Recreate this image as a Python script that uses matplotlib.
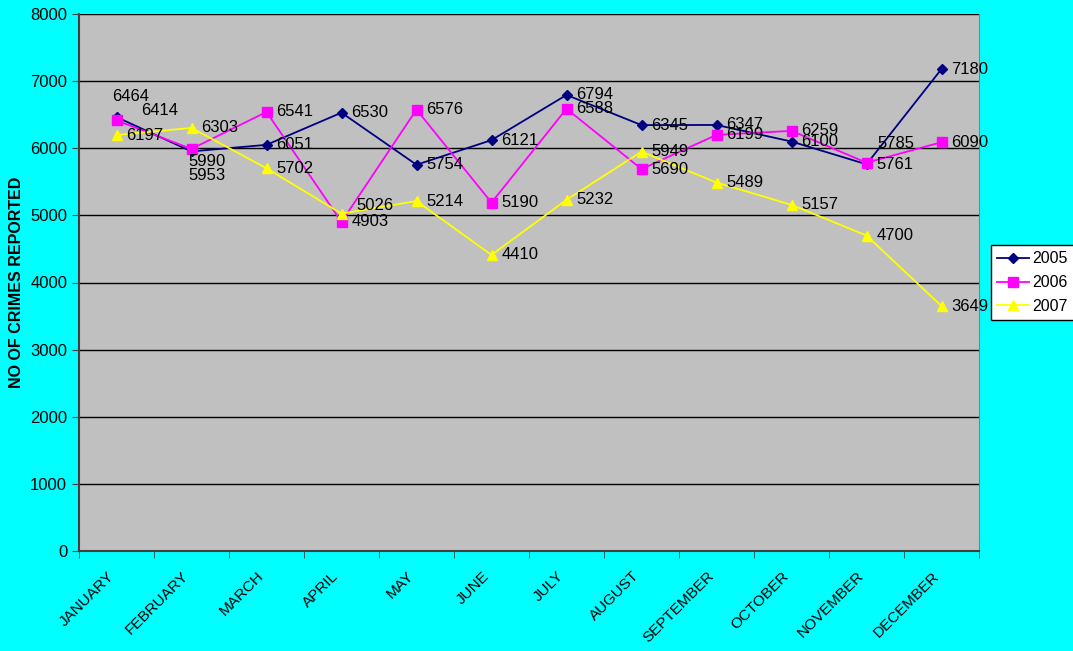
import matplotlib.pyplot as plt
from matplotlib.ticker import FixedLocator, MultipleLocator

plt.rcParams['font.family'] = ['Liberation Sans', 'DejaVu Sans']

months = ["JANUARY", "FEBRUARY", "MARCH", "APRIL", "MAY", "JUNE", "JULY",
          "AUGUST", "SEPTEMBER", "OCTOBER", "NOVEMBER", "DECEMBER"]
crimes_2005 = [6464, 5953, 6051, 6530, 5754, 6121, 6794, 6345, 6347, 6100, 5761, 7180]
crimes_2006 = [6414, 5990, 6541, 4903, 6576, 5190, 6588, 5690, 6199, 6259, 5785, 6090]
crimes_2007 = [6197, 6303, 5702, 5026, 5214, 4410, 5232, 5949, 5489, 5157, 4700, 3649]

# label offsets (points) where the label is not just to the right of the marker
label_shift = {
    ("2005", 0): (-3, 15),
    ("2005", 1): (-2, -17),
    ("2006", 0): (18, 7),
    ("2006", 1): (-2, -9),
    ("2006", 10): (8, 14),
    ("2007", 3): (11, 6),
}

series = [
    ("2005", crimes_2005, "#000080", "D", 5),
    ("2006", crimes_2006, "#FF00FF", "s", 6.5),
    ("2007", crimes_2007, "#FFFF00", "^", 7),
]

fig = plt.figure(figsize=(10.73, 6.51), dpi=100, facecolor="#00FFFF")
ax = fig.add_axes([79 / 1073, 100 / 651, 900 / 1073, 537 / 651])
ax.set_facecolor("#C0C0C0")

x = list(range(len(months)))
for name, vals, col, mk, ms in series:
    ax.plot(x, vals, color=col, marker=mk, markersize=ms, linewidth=1.3,
            label=name, zorder=3)
    for i, v in enumerate(vals):
        dx, dy = label_shift.get((name, i), (7, 0))
        ax.annotate(str(v), (i, v), xytext=(dx, dy), textcoords="offset points",
                    ha="left", va="center", fontsize=12, color="black", zorder=4)

ax.set_xlim(-0.5, 11.5)
ax.set_ylim(0, 8000)
ax.yaxis.set_major_locator(MultipleLocator(1000))
ax.grid(axis="y", color="black", linewidth=1, zorder=1)
ax.set_axisbelow(True)

ax.set_xticks(x)
ax.set_xticklabels(months, rotation=45, ha="right", va="bottom",
                   rotation_mode="anchor", fontsize=11)
ax.tick_params(axis="x", which="major", length=0, pad=20)
ax.xaxis.set_minor_locator(FixedLocator([i - 0.5 for i in range(13)]))
ax.tick_params(axis="x", which="minor", length=5, color="#404040")
ax.tick_params(axis="y", labelsize=12, length=5, color="#404040")

for s in ["left", "bottom"]:
    ax.spines[s].set_color("#404040")
    ax.spines[s].set_linewidth(1.5)
ax.spines["right"].set_color("#808080")
ax.spines["top"].set_visible(False)

ax.set_ylabel("NO OF CRIMES REPORTED", fontsize=11.5, fontweight="bold")
ax.yaxis.set_label_coords(-0.061, 0.5)

leg = fig.legend(loc="upper left", bbox_to_anchor=(991 / 1073, 1 - 245 / 651),
                 borderaxespad=0, fontsize=11.5, fancybox=False, framealpha=1,
                 edgecolor="black", handlelength=2.0, handletextpad=0.2,
                 labelspacing=0.55, borderpad=0.4)
leg.get_frame().set_linewidth(1)

fig.savefig("out.png", dpi=100, facecolor=fig.get_facecolor())
